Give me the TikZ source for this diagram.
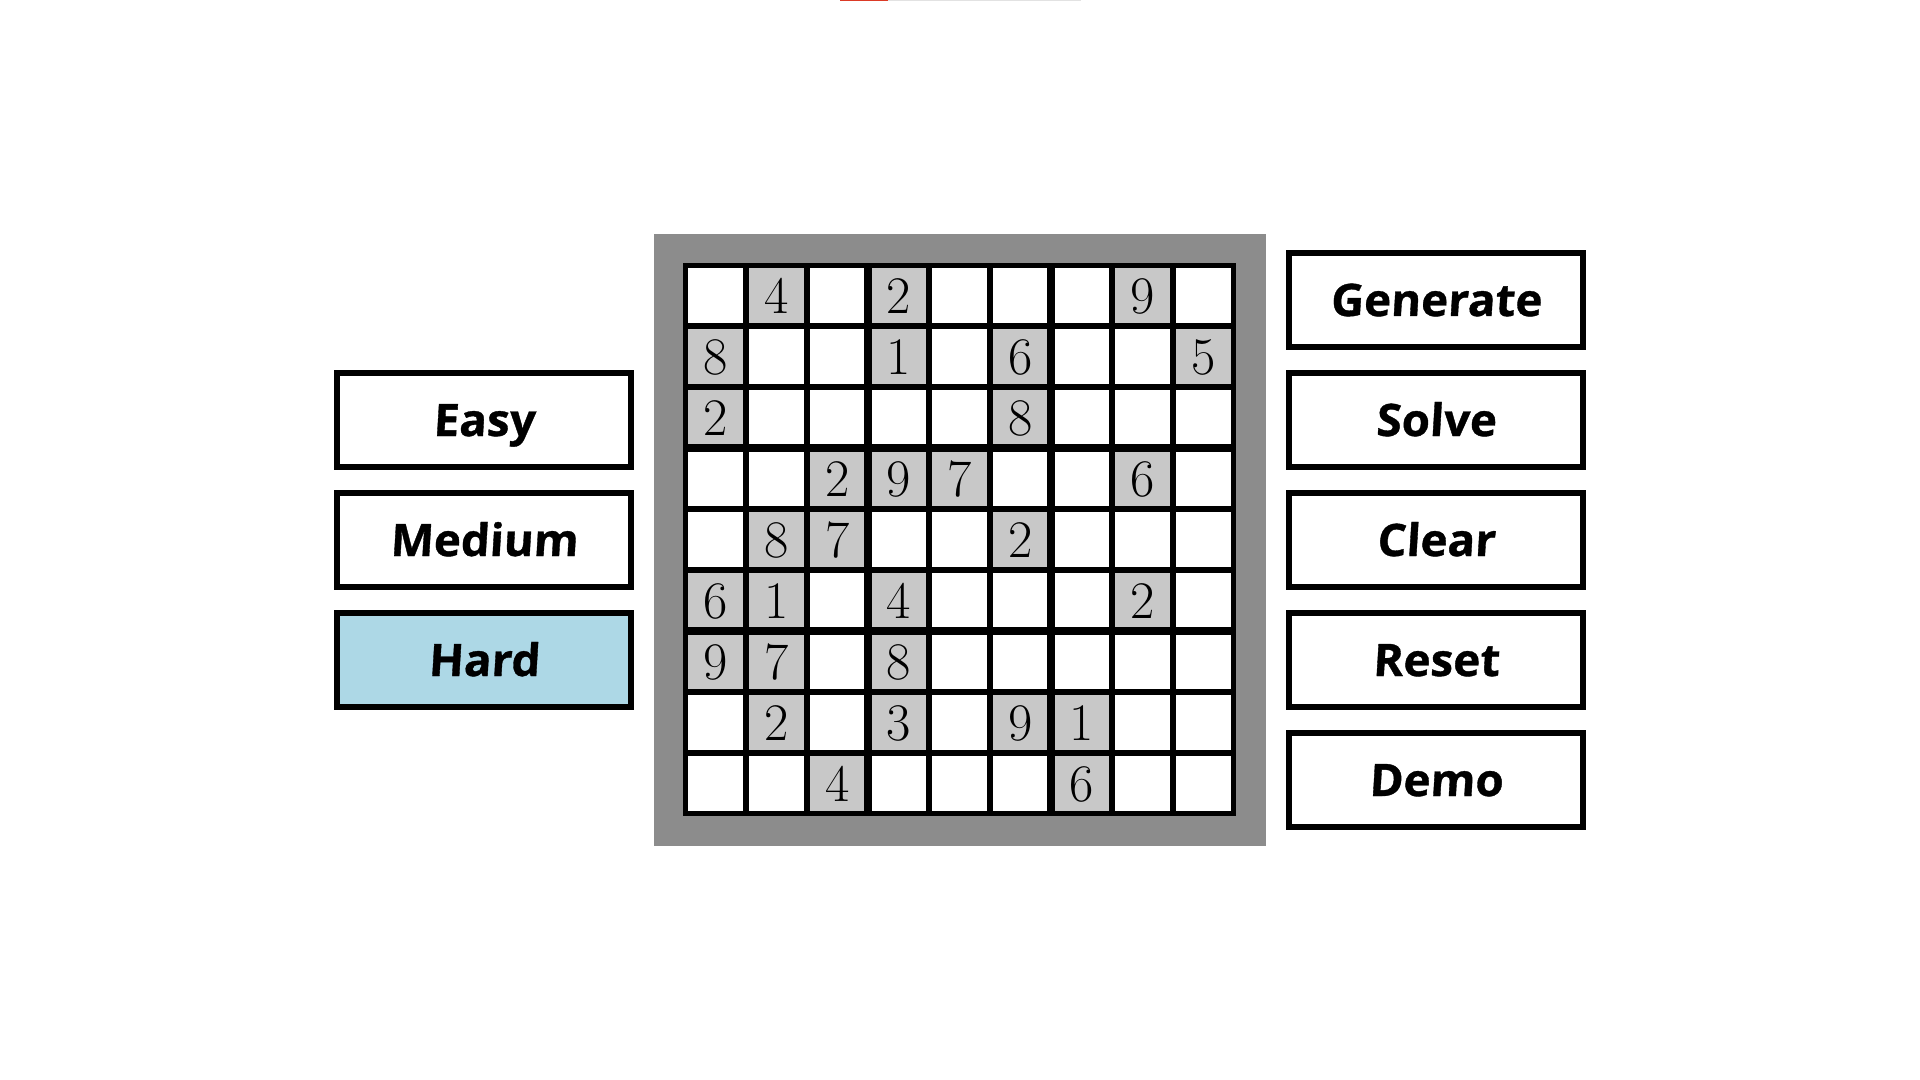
\documentclass[tikz,border=0pt]{standalone}
\usepackage{fontspec}
\usepackage{tikz}
\usetikzlibrary{positioning}
\newfontfamily\btnfont{Open Sans}[FakeSlant=0.06, FakeStretch=1.02, BoldFeatures={FakeBold=0.8}]
\definecolor{framegray}{HTML}{8C8C8C}
\definecolor{givengray}{HTML}{C8C8C8}
\definecolor{hardblue}{HTML}{ADD8E6}
\definecolor{barred}{HTML}{DB3A26}
\definecolor{bargray}{HTML}{E2E2E2}
\tikzset{
  btn/.style={draw, line width=3pt, fill=white, minimum width=147pt, minimum height=47pt,
    inner sep=0pt, outer sep=0pt, text height=16pt, text depth=0pt,
    font=\btnfont\bfseries\fontsize{22.4}{24}\selectfont},
  givencell/.style={fill=givengray, minimum size=30.45pt, inner sep=0pt,
    text height=18pt, text depth=0pt, font=\fontsize{26.4}{28}\selectfont},
  thinline/.style={line width=3pt},
  boxline/.style={line width=4.2pt}
}

\begin{document}
\begin{tikzpicture}[x=0.5pt, y=-0.5pt]
    \useasboundingbox (0,0) rectangle (1920,1080);

    % Progress bar on top
    \fill[barred] (840,0) rectangle (888,1.5);
    \fill[bargray] (888,0) rectangle (1081,1.5);

    % Board frame
    \fill[framegray] (654,234) rectangle (1266,846);
    \fill[white] (685.5,265.5) rectangle (1233.5,813.5);

    % Given digits (row/col/digit)
    \foreach \r/\c/\d in {1/2/4, 1/4/2, 1/8/9, 2/1/8, 2/4/1, 2/6/6, 2/9/5, 3/1/2, 3/6/8,
                          4/3/2, 4/4/9, 4/5/7, 4/8/6, 5/2/8, 5/3/7, 5/6/2, 6/1/6, 6/2/1,
                          6/4/4, 6/8/2, 7/1/9, 7/2/7, 7/4/8, 8/2/2, 8/4/3, 8/6/9, 8/7/1,
                          9/3/4, 9/7/6} {
        \node[givencell] (c\r\c) at ({685.5+(\c-0.5)*60.9}, {265.5+(\r-0.5)*60.9}) {\d};
    }

    % Grid lines
    \foreach \i in {1,2,4,5,7,8} {
        \draw[thinline] ({685.5+\i*60.9},265.5) -- ({685.5+\i*60.9},813.5);
        \draw[thinline] (685.5,{265.5+\i*60.9}) -- (1233.5,{265.5+\i*60.9});
    }
    \foreach \i in {3,6} {
        \draw[boxline] ({685.5+\i*60.9},265.5) -- ({685.5+\i*60.9},813.5);
        \draw[boxline] (685.5,{265.5+\i*60.9}) -- (1233.5,{265.5+\i*60.9});
    }
    \draw[line width=2.5pt] (685.5,265.5) rectangle (1233.5,813.5);

    % Level buttons
    \node[btn] (easy) at (484,420) {Easy};
    \node[btn, below=13pt of easy] (medium) {Medium};
    \node[btn, below=13pt of medium, fill=hardblue] (hard) {Hard};

    % Action buttons
    \node[btn] (generate) at (1436,300) {Generate};
    \node[btn, below=13pt of generate] (solve) {Solve};
    \node[btn, below=13pt of solve] (clear) {Clear};
    \node[btn, below=13pt of clear] (reset) {Reset};
    \node[btn, below=13pt of reset] (demo) {Demo};
\end{tikzpicture}
\end{document}
